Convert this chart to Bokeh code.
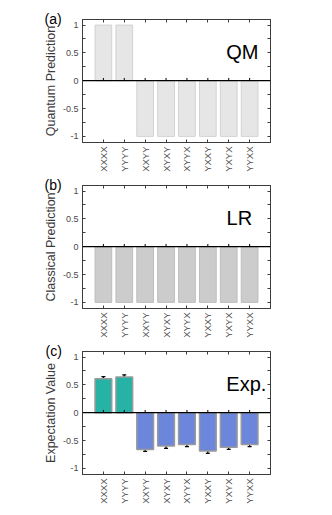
import math
from bokeh.plotting import figure
from bokeh.models import (ColumnDataSource, FixedTicker, LinearAxis, Range1d, Span,
                          Label, Whisker, TeeHead)
from bokeh.layouts import column
from bokeh.embed import file_html
from bokeh.resources import INLINE

# ---- data ----
categories = ["XXXX", "YYYY", "XXYY", "XYXY", "XYYX", "YXXY", "YXYX", "YYXX"]
qm_values = [1, 1, -1, -1, -1, -1, -1, -1]
lr_values = [-1, -1, -1, -1, -1, -1, -1, -1]
exp_values = [0.61, 0.64, -0.66, -0.60, -0.57, -0.69, -0.62, -0.57]
exp_errors = [0.04, 0.04, 0.035, 0.04, 0.04, 0.04, 0.04, 0.04]
y_ticks = [-1, -0.5, 0, 0.5, 1]
y_tick_labels = ["-1", "-0.5", "0", "0.5", "1"]
y_minor_ticks = [-0.75, -0.25, 0.25, 0.75]

FONT = "Liberation Sans"
AX_COLOR = "#3c3c3c"
TXT_COLOR = "#4a4a4a"
xs = list(range(1, len(categories) + 1))


def make_panel(values, fills, line_color, line_width, ylabel, tag, name, name_x,
               errors=None, border_top=11):
    p = figure(width=310, height=border_top + 124 + 31, output_backend="svg",
               toolbar_location=None,
               x_range=Range1d(0, 9), y_range=Range1d(-1.11, 1.1),
               min_border_left=82, min_border_right=40, min_border_top=border_top,
               min_border_bottom=31)
    p.background_fill_color = "white"
    p.border_fill_color = "white"
    p.outline_line_color = AX_COLOR
    p.outline_line_width = 1
    p.xgrid.visible = False
    p.ygrid.visible = False

    src = ColumnDataSource(dict(x=xs, top=values, fill=fills))
    p.vbar(x="x", top="top", bottom=0, width=0.8, source=src, fill_color="fill",
           line_color=line_color, line_width=line_width)

    if errors is not None:
        esrc = ColumnDataSource(dict(x=xs,
                                     upper=[v + e for v, e in zip(values, errors)],
                                     lower=[v - e for v, e in zip(values, errors)]))
        w = Whisker(base="x", upper="upper", lower="lower", source=esrc,
                    line_color="black", line_width=1.3,
                    upper_head=TeeHead(size=4, line_color="black", line_width=1.3),
                    lower_head=TeeHead(size=4, line_color="black", line_width=1.3))
        p.add_layout(w)

    p.add_layout(Span(location=0, dimension="width", line_color="black", line_width=1.2))
    p.segment(x0=xs, y0=[0] * len(xs), x1=xs, y1=[0.05] * len(xs),
              line_color="black", line_width=1)

    # bottom axis
    xa = p.xaxis[0]
    xa.ticker = FixedTicker(ticks=xs)
    xa.major_label_overrides = {x: c for x, c in zip(xs, categories)}
    xa.major_label_orientation = math.pi / 2
    xa.major_label_text_font = FONT
    xa.major_label_text_font_size = "9.5px"
    xa.major_label_text_color = TXT_COLOR
    xa.major_label_standoff = 4
    xa.major_tick_in = 3
    xa.major_tick_out = 0
    xa.minor_tick_line_color = None
    xa.axis_line_color = AX_COLOR
    xa.major_tick_line_color = AX_COLOR

    # left axis
    ya = p.yaxis[0]
    ya.ticker = FixedTicker(ticks=y_ticks, minor_ticks=y_minor_ticks)
    ya.major_label_overrides = {t: l for t, l in zip(y_ticks, y_tick_labels)}
    ya.major_label_text_font = FONT
    ya.major_label_text_font_size = "9px"
    ya.major_label_text_color = TXT_COLOR
    ya.major_label_standoff = 4
    ya.major_tick_in = 3
    ya.major_tick_out = 0
    ya.minor_tick_in = 3
    ya.minor_tick_out = 0
    ya.axis_line_color = AX_COLOR
    ya.major_tick_line_color = AX_COLOR
    ya.minor_tick_line_color = AX_COLOR
    ya.axis_label = ylabel
    ya.axis_label_text_font = FONT
    ya.axis_label_text_font_size = "12.5px"
    ya.axis_label_text_font_style = "normal"
    ya.axis_label_text_color = "#3a3a3a"
    ya.axis_label_standoff = 2

    # top axis (ticks only, labels not drawn)
    top = LinearAxis(ticker=FixedTicker(ticks=xs), major_label_text_font_size="1px",
                     major_label_text_color=None,
                     major_tick_in=3, major_tick_out=0, minor_tick_line_color=None,
                     axis_line_color=AX_COLOR, major_tick_line_color=AX_COLOR,
                     major_label_standoff=0)
    p.add_layout(top, "above")

    # right axis (ticks only, labels not drawn)
    right = LinearAxis(ticker=FixedTicker(ticks=y_ticks, minor_ticks=y_minor_ticks),
                       major_label_text_font_size="1px", major_label_text_color=None,
                       major_tick_in=3, major_tick_out=0, minor_tick_in=3,
                       minor_tick_out=0, axis_line_color=AX_COLOR,
                       major_tick_line_color=AX_COLOR,
                       minor_tick_line_color=AX_COLOR, major_label_standoff=0)
    p.add_layout(right, "right")

    # panel tag placed in the left side panel (not clipped to the frame)
    p.add_layout(Label(x=21, y=124, x_units="screen", y_units="screen", text=tag,
                       text_font=FONT, text_font_size="14px", text_color="black",
                       text_align="left", text_baseline="alphabetic"), "left")
    p.add_layout(Label(x=name_x, y=0.51, text=name, text_font=FONT,
                       text_font_size="20px", text_color="black",
                       text_align="right", text_baseline="alphabetic"))
    return p


p1 = make_panel(qm_values, ["#e6e6e6"] * 8, "#d2d2d2", 1, "Quantum Prediction",
                "(a)", "QM", 8.42, border_top=19)
p2 = make_panel(lr_values, ["#cccccc"] * 8, "#bdbdbd", 1, "Classical Prediction",
                "(b)", "LR", 8.12)
exp_fills = ["#27b2a6" if v > 0 else "#6b86db" for v in exp_values]
p3 = make_panel(exp_values, exp_fills, "#9a9a9a", 1.5, "Expectation Value",
                "(c)", "Exp.", 8.8, errors=exp_errors)

layout = column(p1, p2, p3, spacing=0)
open("out.html", "w").write(file_html(layout, INLINE))
